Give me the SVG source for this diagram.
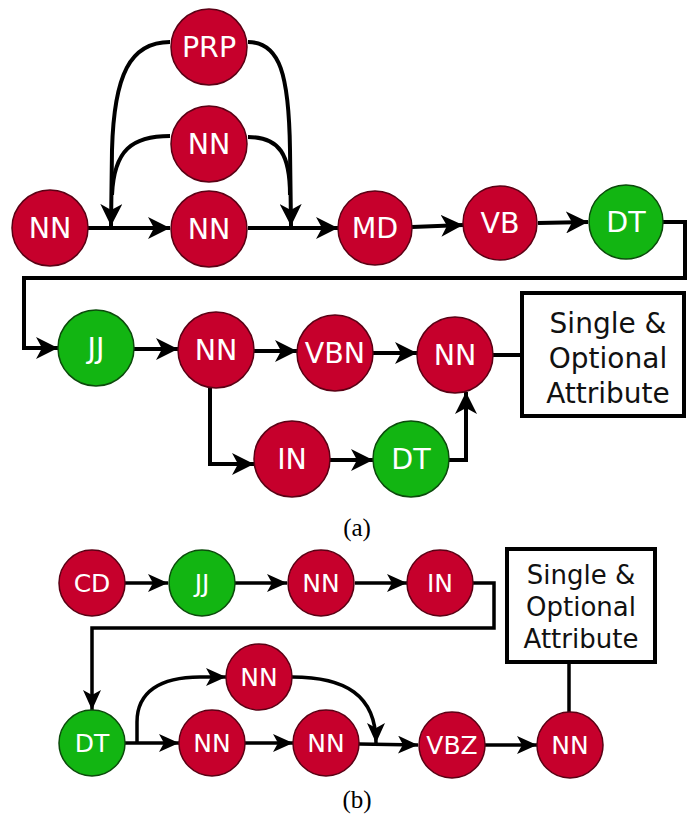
<svg xmlns="http://www.w3.org/2000/svg" width="688" height="819" viewBox="0 0 688 819">
  <style>
    .red { fill: #c6002c; stroke: #5a0014; stroke-width: 1.5; }
    .green { fill: #12b512; stroke: #0b4a0b; stroke-width: 1.5; }
    .lbl { font-family: "DejaVu Sans", Verdana, sans-serif; fill: #ffffff; text-anchor: middle; dominant-baseline: central; }
    .la { font-size: 28.5px; }
    .lb { font-size: 25px; }
    .edgeA { fill: none; stroke: #000; stroke-width: 4; }
    .edgeB { fill: none; stroke: #000; stroke-width: 3.5; }
    .box { fill: #ffffff; stroke: #000; stroke-width: 4; }
    .boxtxt { font-family: "DejaVu Sans", Verdana, sans-serif; fill: #111; text-anchor: middle; }
    .cap { font-family: "Liberation Serif", "Times New Roman", serif; font-size: 25px; fill: #000; text-anchor: middle; }
  </style>
  <defs>
    <marker id="arrA" markerUnits="userSpaceOnUse" viewBox="0 0 22 22" refX="22" refY="11" markerWidth="22" markerHeight="22" orient="auto">
      <path d="M0,0 L22,11 L0,22 L6,11 z" fill="#000"/>
    </marker>
    <marker id="arrB" markerUnits="userSpaceOnUse" viewBox="0 0 20 18" refX="20" refY="9" markerWidth="20" markerHeight="18" orient="auto">
      <path d="M0,0 L20,9 L0,18 L5,9 z" fill="#000"/>
    </marker>
  </defs>
  <rect width="688" height="819" fill="#ffffff"/>

  <!-- Connectors, part (a) -->
  <g id="edges-a">
    <path class="edgeA" d="M88,228 L170,228" marker-end="url(#arrA)"/>
    <path class="edgeA" d="M248,228 L338,228" marker-end="url(#arrA)"/>
    <path class="edgeA" d="M170,42 C130,42 114,75 112,150 L111,226" marker-end="url(#arrA)"/>
    <path class="edgeA" d="M170,136 C132,136 114,150 112,195"/>
    <path class="edgeA" d="M248,42 C280,42 289,75 290,150 L291,226" marker-end="url(#arrA)"/>
    <path class="edgeA" d="M248,137 C280,137 290,155 290,195"/>
    <path class="edgeA" d="M412,227 L463,225" marker-end="url(#arrA)"/>
    <path class="edgeA" d="M538,223 L588,222" marker-end="url(#arrA)"/>
    <path class="edgeA" d="M663,222 L685,222 L685,278 L24,278 L24,348 L58,348" marker-end="url(#arrA)"/>
    <path class="edgeA" d="M134,349 L178,349" marker-end="url(#arrA)"/>
    <path class="edgeA" d="M254,351 L297,351" marker-end="url(#arrA)"/>
    <path class="edgeA" d="M373,353 L417,353" marker-end="url(#arrA)"/>
    <path class="edgeA" d="M493,355 L522,355"/>
    <path class="edgeA" d="M210,387 L210,464 L254,464" marker-end="url(#arrA)"/>
    <path class="edgeA" d="M330,460 L373,460" marker-end="url(#arrA)"/>
    <path class="edgeA" d="M449,460 L466,460 L466,392" marker-end="url(#arrA)"/>
  </g>

  <!-- Nodes, part (a) -->
  <g id="a-nn1"><circle class="red" cx="50" cy="228" r="38"/><text class="lbl la" x="50" y="228">NN</text></g>
  <g id="a-prp"><circle class="red" cx="209" cy="47" r="38"/><text class="lbl la" x="209" y="47">PRP</text></g>
  <g id="a-nn2"><circle class="red" cx="209" cy="144" r="38"/><text class="lbl la" x="209" y="144">NN</text></g>
  <g id="a-nn3"><circle class="red" cx="209" cy="229" r="38"/><text class="lbl la" x="209" y="229">NN</text></g>
  <g id="a-md"><circle class="red" cx="375" cy="228" r="37"/><text class="lbl la" x="375" y="228">MD</text></g>
  <g id="a-vb"><circle class="red" cx="500" cy="223" r="37"/><text class="lbl la" x="500" y="223">VB</text></g>
  <g id="a-dt1"><circle class="green" cx="626" cy="222" r="37"/><text class="lbl la" x="626" y="222">DT</text></g>
  <g id="a-jj"><circle class="green" cx="96" cy="348" r="38"/><text class="lbl la" x="96" y="348">JJ</text></g>
  <g id="a-nn4"><circle class="red" cx="216" cy="350" r="38"/><text class="lbl la" x="216" y="350">NN</text></g>
  <g id="a-vbn"><circle class="red" cx="335" cy="353" r="38"/><text class="lbl la" x="335" y="353">VBN</text></g>
  <g id="a-nn5"><circle class="red" cx="455" cy="355" r="38"/><text class="lbl la" x="455" y="355">NN</text></g>
  <g id="a-in"><circle class="red" cx="292" cy="459" r="38"/><text class="lbl la" x="292" y="459">IN</text></g>
  <g id="a-dt2"><circle class="green" cx="411" cy="459" r="38"/><text class="lbl la" x="411" y="459">DT</text></g>
  <g id="a-attr">
    <rect class="box" x="522" y="293" width="162" height="123"/>
    <text class="boxtxt" font-size="28" x="608" y="333">Single &amp;</text>
    <text class="boxtxt" font-size="28" x="608" y="368">Optional</text>
    <text class="boxtxt" font-size="28" x="608" y="403">Attribute</text>
  </g>
  <text class="cap" x="357" y="536">(a)</text>

  <!-- Connectors, part (b) -->
  <g id="edges-b">
    <path class="edgeB" d="M125,583 L168,583" marker-end="url(#arrB)"/>
    <path class="edgeB" d="M235,583 L287,583" marker-end="url(#arrB)"/>
    <path class="edgeB" d="M355,583 L407,583" marker-end="url(#arrB)"/>
    <path class="edgeB" d="M473,583 L494,583 L494,628 L92,628 L92,710" marker-end="url(#arrB)"/>
    <path class="edgeB" d="M125,743 L179,743" marker-end="url(#arrB)"/>
    <path class="edgeB" d="M137,743 L137,722 C137,692 160,677 200,677 L226,677" marker-end="url(#arrB)"/>
    <path class="edgeB" d="M245,743 L293,743" marker-end="url(#arrB)"/>
    <path class="edgeB" d="M359,744 L418,745" marker-end="url(#arrB)"/>
    <path class="edgeB" d="M292,677 C345,677 376,695 376,743" marker-end="url(#arrB)"/>
    <path class="edgeB" d="M485,745 L537,745" marker-end="url(#arrB)"/>
    <path class="edgeB" d="M569,662 L569,712"/>
  </g>

  <!-- Nodes, part (b) -->
  <g id="b-cd"><circle class="red" cx="92" cy="583" r="33"/><text class="lbl lb" x="92" y="583">CD</text></g>
  <g id="b-jj"><circle class="green" cx="202" cy="583" r="33"/><text class="lbl lb" x="202" y="583">JJ</text></g>
  <g id="b-nn1"><circle class="red" cx="321" cy="583" r="33"/><text class="lbl lb" x="321" y="583">NN</text></g>
  <g id="b-in"><circle class="red" cx="440" cy="583" r="33"/><text class="lbl lb" x="440" y="583">IN</text></g>
  <g id="b-dt"><circle class="green" cx="92" cy="743" r="33"/><text class="lbl lb" x="92" y="743">DT</text></g>
  <g id="b-nn2"><circle class="red" cx="259" cy="677" r="33"/><text class="lbl lb" x="259" y="677">NN</text></g>
  <g id="b-nn3"><circle class="red" cx="212" cy="743" r="33"/><text class="lbl lb" x="212" y="743">NN</text></g>
  <g id="b-nn4"><circle class="red" cx="326" cy="743" r="33"/><text class="lbl lb" x="326" y="743">NN</text></g>
  <g id="b-vbz"><circle class="red" cx="452" cy="745" r="33"/><text class="lbl lb" x="452" y="745">VBZ</text></g>
  <g id="b-nn5"><circle class="red" cx="570" cy="745" r="33"/><text class="lbl lb" x="570" y="745">NN</text></g>
  <g id="b-attr">
    <rect class="box" x="507" y="549" width="148" height="113"/>
    <text class="boxtxt" font-size="26" x="581" y="584">Single &amp;</text>
    <text class="boxtxt" font-size="26" x="581" y="616">Optional</text>
    <text class="boxtxt" font-size="26" x="581" y="648">Attribute</text>
  </g>
  <text class="cap" x="357" y="808">(b)</text>
</svg>
